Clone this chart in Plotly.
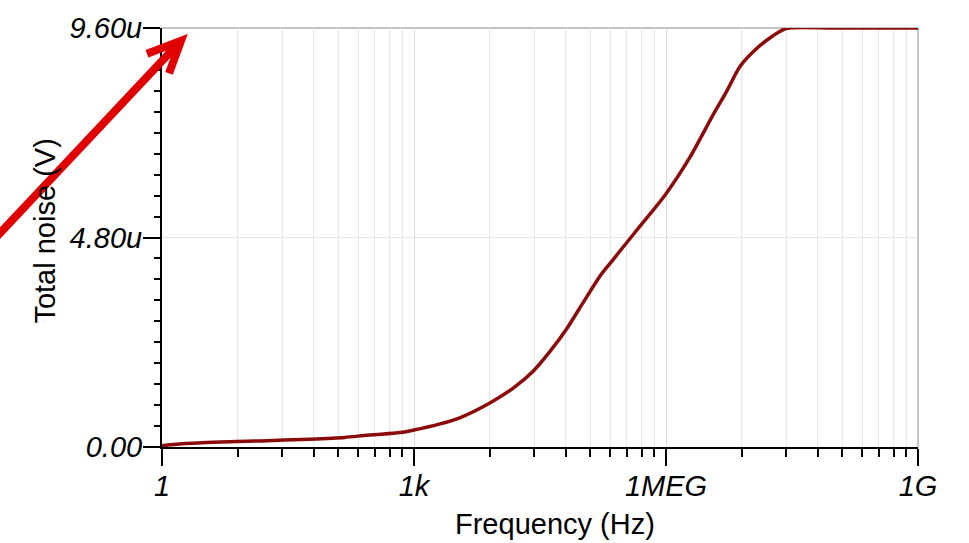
import plotly.graph_objects as go

# Integrated output noise versus frequency
freq_hz = [1, 1.6, 4, 15, 57, 150, 276, 400, 683, 1000, 2040, 3500, 8000,
           15200, 26000, 41600, 65800, 104000, 164000, 236000, 340000, 490000,
           973000, 1.93e6, 3.66e6, 5.27e6, 7.6e6, 1.2e7, 1.9e7, 2.7e7,
           1e8, 1e9]
noise_uv = [0.03, 0.07, 0.11, 0.14, 0.18, 0.22, 0.27, 0.29, 0.33, 0.39, 0.53,
            0.67, 1.01, 1.35, 1.73, 2.19, 2.71, 3.32, 3.92, 4.30, 4.68, 5.06,
            5.77, 6.64, 7.62, 8.15, 8.72, 9.13, 9.43, 9.59, 9.60, 9.60]

x_major = [1, 1e3, 1e6, 1e9]
x_major_text = ["1", "1k", "1MEG", "1G"]
y_major_uv = [0.0, 4.8, 9.6]
y_major_text = ["0.00", "4.80u", "9.60u"]
y_minor_step_uv = 0.48

noise_v = [v * 1e-6 for v in noise_uv]
x_minor = [k ** 3 * 1000 ** n for n in range(3) for k in range(2, 10)]
y_minor = [i * y_minor_step_uv * 1e-6 for i in range(21)]

W, H = 969, 543
L, R, T, B = 162, 51, 23, 96
pw, ph = W - L - R, H - T - B

def px(x):
    return (x - L) / pw

def py(y):
    return (H - B - y) / ph

FONT = "Liberation Sans, Arial, sans-serif"
FS = 29

fig = go.Figure()
fig.add_trace(go.Scatter(
    x=freq_hz, y=noise_v, mode="lines",
    line=dict(color="#8b0a0a", width=3.5, shape="spline", smoothing=0.7),
    cliponaxis=False, showlegend=False,
))

fig.update_layout(
    width=W, height=H,
    margin=dict(l=L, r=R, t=T, b=B),
    paper_bgcolor="white", plot_bgcolor="white",
    font=dict(family=FONT, color="black"),
    xaxis=dict(
        type="log", range=[0, 9],
        tickmode="array", tickvals=x_major, ticktext=x_major_text,
        ticks="outside", ticklen=17, tickwidth=2, tickcolor="black",
        tickfont=dict(family=FONT, size=FS, style="italic"),
        ticklabelstandoff=-5,
        showline=True, linecolor="black", linewidth=2,
        showgrid=True, gridcolor="#d9d9d9", gridwidth=1,
        zeroline=False,
        minor=dict(tickmode="array", tickvals=x_minor, ticks="outside",
                   ticklen=8, tickwidth=2, tickcolor="black",
                   showgrid=True, gridcolor="#e6e6e6", gridwidth=1),
    ),
    yaxis=dict(
        range=[0, 9.6e-6],
        tickmode="array", tickvals=[v * 1e-6 for v in y_major_uv],
        ticktext=y_major_text,
        ticks="outside", ticklen=17, tickwidth=2, tickcolor="black",
        tickfont=dict(family=FONT, size=FS, style="italic"),
        ticklabelstandoff=-5,
        showline=True, linecolor="black", linewidth=2,
        showgrid=True, gridcolor="#e3e3e3", gridwidth=1,
        zeroline=False,
        minor=dict(tickmode="array", tickvals=y_minor, ticks="outside",
                   ticklen=6, tickwidth=2, tickcolor="black", showgrid=False),
    ),
)

# Grey frame on the top and right edges of the plot area
fig.add_shape(type="line", xref="paper", yref="paper", x0=0, x1=1, y0=1, y1=1,
              line=dict(color="#c4c4c4", width=2), layer="below")
fig.add_shape(type="line", xref="paper", yref="paper", x0=1, x1=1, y0=0, y1=1,
              line=dict(color="#c4c4c4", width=2), layer="below")

# Axis titles
fig.add_annotation(text="Frequency (Hz)", xref="paper", yref="paper",
                   x=px(555), y=py(525), xanchor="center", yanchor="middle",
                   showarrow=False, font=dict(family=FONT, size=FS))
fig.add_annotation(text="Total noise (V)", xref="paper", yref="paper",
                   x=px(45), y=py(229), xanchor="center", yanchor="middle",
                   showarrow=False, textangle=-90,
                   font=dict(family=FONT, size=FS))

# Red pointer arrow toward the top of the y scale
tip = (181, 36)
tail = (-20, 252)
arm1 = (147, 49)
arm2 = (169, 69)
path = (f"M {px(tail[0])},{py(tail[1])} L {px(tip[0])},{py(tip[1])} "
        f"M {px(arm1[0])},{py(arm1[1])} L {px(tip[0])},{py(tip[1])} "
        f"L {px(arm2[0])},{py(arm2[1])}")
fig.add_shape(type="path", xref="paper", yref="paper", path=path,
              line=dict(color="#e00000", width=8))

fig.write_html("out.html")
